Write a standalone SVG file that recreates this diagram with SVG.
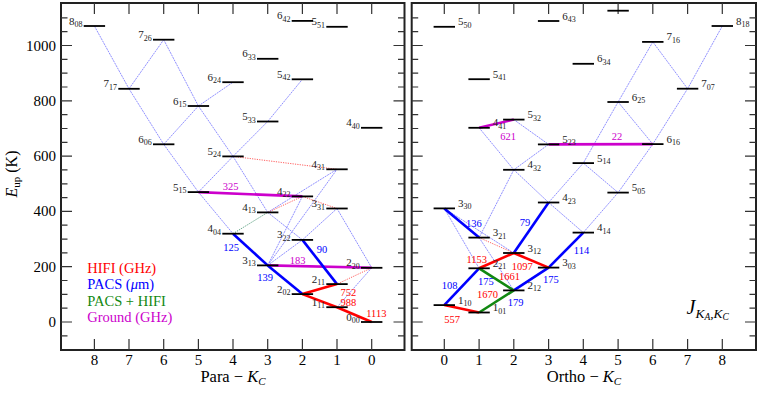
<svg xmlns="http://www.w3.org/2000/svg" xmlns:xlink="http://www.w3.org/1999/xlink" width="763" height="398" viewBox="0 0 763 398" font-family="'Liberation Serif', 'Times New Roman', serif">
<style>
text, tspan{font-family:"Liberation Serif","Times New Roman",serif}
text{fill:#000}
.lv{stroke:#000;stroke-width:1.8}
.ll{font-size:11px;fill:#222;text-anchor:end}
.lr{font-size:11px;fill:#222}
.s{font-size:8px}
.thin{stroke:#7373ff;stroke-width:0.8;stroke-dasharray:2 0.8;fill:none}
.rdot{stroke:#ff4d4d;stroke-width:0.9;stroke-dasharray:1.2 1.2}
.gdot{stroke:#3d8f6a;stroke-width:0.9;stroke-dasharray:1.2 1.2}
.tb{stroke:#0000ff;stroke-width:2.6}
.tr{stroke:#ff0000;stroke-width:2.6}
.tg{stroke:#118811;stroke-width:2.6}
.tm{stroke:#cc00cc;stroke-width:2.6}
.lab{font-size:10.5px;text-anchor:middle}
.cb{fill:#0000ff}.cr{fill:#ff0000}.cg{fill:#118811}.cm{fill:#cc00cc}
.frame{fill:none;stroke:#222;stroke-width:2}
.tk{stroke:#333;stroke-width:1.2;fill:none}
.tl{font-size:15px}
.ax{font-size:16.5px;text-anchor:middle}
</style>
<defs>
<path id="yt" class="tk" d="M0 322h11M0 266.7h11M0 211.4h11M0 156.1h11M0 100.8h11M0 45.5h11M0 335.8h6.5M0 308.2h6.5M0 294.4h6.5M0 280.5h6.5M0 252.9h6.5M0 239.1h6.5M0 225.2h6.5M0 197.6h6.5M0 183.8h6.5M0 169.9h6.5M0 142.3h6.5M0 128.5h6.5M0 114.6h6.5M0 87h6.5M0 73.2h6.5M0 59.3h6.5M0 31.7h6.5M0 17.9h6.5"/>
</defs>

<!-- frames and ticks -->
<g id="axes">
<rect class="frame" x="61" y="3" width="343.5" height="347"/>
<rect class="frame" x="411.7" y="3" width="344.3" height="347"/>
<use xlink:href="#yt" transform="translate(61,0)"/>
<use xlink:href="#yt" transform="translate(404.5,0) scale(-1,1)"/>
<use xlink:href="#yt" transform="translate(411.7,0)"/>
<use xlink:href="#yt" transform="translate(756,0) scale(-1,1)"/>
<path class="tk" d="M94.4 3v11M129 3v11M163.7 3v11M198.4 3v11M233 3v11M267.7 3v11M302.4 3v11M337 3v11M371.7 3v11M94.4 350v-11M129 350v-11M163.7 350v-11M198.4 350v-11M233 350v-11M267.7 350v-11M302.4 350v-11M337 350v-11M371.7 350v-11"/>
<path class="tk" d="M444.3 3v11M479.1 3v11M513.8 3v11M548.6 3v11M583.3 3v11M618.1 3v11M652.8 3v11M687.6 3v11M722.3 3v11M444.3 350v-11M479.1 350v-11M513.8 350v-11M548.6 350v-11M583.3 350v-11M618.1 350v-11M652.8 350v-11M687.6 350v-11M722.3 350v-11"/>
<g class="tl" text-anchor="end">
<text x="56" y="327">0</text>
<text x="56" y="271.7">200</text>
<text x="56" y="216.4">400</text>
<text x="56" y="161.1">600</text>
<text x="56" y="105.8">800</text>
<text x="56" y="50.5">1000</text>
</g>
<g class="tl" text-anchor="middle">
<text x="94.4" y="365">8</text><text x="129" y="365">7</text><text x="163.7" y="365">6</text><text x="198.4" y="365">5</text><text x="233" y="365">4</text><text x="267.7" y="365">3</text><text x="302.4" y="365">2</text><text x="337" y="365">1</text><text x="371.7" y="365">0</text>
<text x="444.3" y="365">0</text><text x="479.1" y="365">1</text><text x="513.8" y="365">2</text><text x="548.6" y="365">3</text><text x="583.3" y="365">4</text><text x="618.1" y="365">5</text><text x="652.8" y="365">6</text><text x="687.6" y="365">7</text><text x="722.3" y="365">8</text>
</g>
<text class="ax" x="233" y="382">Para − <tspan font-style="italic">K</tspan><tspan font-size="11" font-style="italic" dy="3">C</tspan></text>
<text class="ax" x="584" y="382">Ortho − <tspan font-style="italic">K</tspan><tspan font-size="11" font-style="italic" dy="3">C</tspan></text>
<text font-size="16" transform="translate(17,174) rotate(-90)" text-anchor="middle"><tspan font-style="italic">E</tspan><tspan font-size="11" dy="3">up</tspan><tspan dy="-3"> (K)</tspan></text>
</g>

<!-- legend -->
<g id="legend" font-size="14.5">
<text x="87.3" y="272.7" class="cr">HIFI (GHz)</text>
<text x="87.3" y="289.3" class="cb">PACS (<tspan font-style="italic">μ</tspan>m)</text>
<text x="87.3" y="305.5" class="cg">PACS + HIFI</text>
<text x="87.3" y="322" class="cm">Ground (GHz)</text>
</g>
<text id="jlabel" x="686.5" y="313.5" font-style="italic" font-size="20">J<tspan font-size="13.5" dy="4">K</tspan><tspan font-size="9.5" dy="2">A</tspan><tspan font-size="13.5" font-style="normal" dy="-2">,</tspan><tspan font-size="13.5">K</tspan><tspan font-size="9.5" dy="2">C</tspan></text>

<!-- connectors -->
<g id="connectors">
<g class="thin">
<line x1="94.4" y1="26" x2="129" y2="88.8"/>
<line x1="129" y1="88.8" x2="163.7" y2="144.3"/>
<line x1="163.7" y1="144.3" x2="198.4" y2="192.1"/>
<line x1="198.4" y1="192.1" x2="233" y2="233.7"/>
<line x1="129" y1="88.8" x2="163.7" y2="39.7"/>
<line x1="163.7" y1="39.7" x2="198.4" y2="106"/>
<line x1="198.4" y1="106" x2="233" y2="156.4"/>
<line x1="233" y1="156.4" x2="267.7" y2="212.4"/>
<line x1="267.7" y1="212.4" x2="302.4" y2="239.9"/>
<line x1="163.7" y1="144.3" x2="198.4" y2="106"/>
<line x1="198.4" y1="106" x2="233" y2="82.2"/>
<line x1="198.4" y1="192.1" x2="233" y2="156.4"/>
<line x1="233" y1="156.4" x2="267.7" y2="121.5"/>
<line x1="267.7" y1="121.5" x2="302.4" y2="79.3"/>
<line x1="267.7" y1="265.4" x2="302.4" y2="239.9"/>
<line x1="267.7" y1="265.4" x2="302.4" y2="196.4"/>
<line x1="267.7" y1="265.4" x2="337" y2="169.3"/>
<line x1="267.7" y1="212.4" x2="337" y2="169.3"/>
<line x1="302.4" y1="239.9" x2="337" y2="208.5"/>
<line x1="337" y1="208.5" x2="371.7" y2="267.8"/>
<line x1="371.7" y1="267.8" x2="337" y2="307.2"/>
<line x1="722.3" y1="26" x2="687.6" y2="88.7"/>
<line x1="687.6" y1="88.7" x2="652.8" y2="144.1"/>
<line x1="652.8" y1="144.1" x2="618.1" y2="192.6"/>
<line x1="618.1" y1="192.6" x2="583.3" y2="232.6"/>
<line x1="687.6" y1="88.7" x2="652.8" y2="41.9"/>
<line x1="652.8" y1="41.9" x2="618.1" y2="102"/>
<line x1="618.1" y1="102" x2="583.3" y2="163.1"/>
<line x1="583.3" y1="163.1" x2="548.6" y2="202.5"/>
<line x1="618.1" y1="102" x2="652.8" y2="144.1"/>
<line x1="583.3" y1="163.1" x2="618.1" y2="192.6"/>
<line x1="548.6" y1="202.5" x2="583.3" y2="232.6"/>
<line x1="479.1" y1="127.8" x2="513.8" y2="169.8"/>
<line x1="513.8" y1="169.8" x2="548.6" y2="202.5"/>
<line x1="513.8" y1="119.6" x2="548.6" y2="144.4"/>
<line x1="548.6" y1="144.4" x2="513.8" y2="169.8"/>
<line x1="513.8" y1="169.8" x2="479.1" y2="237.6"/>
<line x1="479.1" y1="237.6" x2="513.8" y2="290.4"/>
<line x1="444.3" y1="208.4" x2="479.1" y2="268.3"/>
<line x1="444.3" y1="208.4" x2="513.8" y2="253"/>
</g>
<g class="rdot">
<line x1="233" y1="156.4" x2="337" y2="169.3"/>
<line x1="267.7" y1="212.4" x2="302.4" y2="196.4"/>
<line x1="302.4" y1="196.4" x2="337" y2="208.5"/>
<line x1="371.7" y1="267.8" x2="337" y2="284.1"/>
<line x1="479.1" y1="237.6" x2="513.8" y2="253"/>
</g>
<line class="gdot" x1="233" y1="233.7" x2="267.7" y2="212.4"/>
<g>
<line class="tm" x1="198.4" y1="192.1" x2="302.4" y2="196.4"/>
<line class="tm" x1="267.7" y1="265.4" x2="371.7" y2="267.8"/>
<line class="tb" x1="233" y1="233.7" x2="267.7" y2="265.4"/>
<line class="tb" x1="267.7" y1="265.4" x2="302.4" y2="294.1"/>
<line class="tb" x1="302.4" y1="239.9" x2="337" y2="284.1"/>
<line class="tr" x1="337" y1="284.1" x2="302.4" y2="294.1"/>
<line class="tr" x1="302.4" y1="294.1" x2="337" y2="307.2"/>
<line class="tr" x1="337" y1="307.2" x2="371.7" y2="322"/>
<line class="tb" x1="444.3" y1="208.4" x2="479.1" y2="237.6"/>
<line class="tb" x1="548.6" y1="202.5" x2="513.8" y2="253"/>
<line class="tb" x1="583.3" y1="232.6" x2="548.6" y2="267.6"/>
<line class="tb" x1="479.1" y1="268.3" x2="444.3" y2="305.1"/>
<line class="tb" x1="548.6" y1="267.6" x2="513.8" y2="290.4"/>
<line class="tr" x1="513.8" y1="253" x2="479.1" y2="268.3"/>
<line class="tr" x1="513.8" y1="253" x2="548.6" y2="267.6"/>
<line class="tr" x1="444.3" y1="305.1" x2="479.1" y2="312.5"/>
<line class="tg" x1="479.1" y1="268.3" x2="513.8" y2="290.4"/>
<line class="tg" x1="513.8" y1="290.4" x2="479.1" y2="312.5"/>
<line class="tm" x1="479.1" y1="127.8" x2="513.8" y2="119.6"/>
<line class="tm" x1="548.6" y1="144.4" x2="652.8" y2="144.1"/>
</g>
<g class="lab">
<text x="230.5" y="189.5" class="cm">325</text>
<text x="297.5" y="263.5" class="cm">183</text>
<text x="231" y="250.5" class="cb">125</text>
<text x="265" y="280.5" class="cb">139</text>
<text x="322" y="253" class="cb">90</text>
<text x="348.3" y="295.5" class="cr">752</text>
<text x="348.3" y="305.5" class="cr">988</text>
<text x="376.3" y="317" class="cr">1113</text>
<text x="473.8" y="226.5" class="cb">136</text>
<text x="525" y="226" class="cb">79</text>
<text x="581.5" y="254" class="cb">114</text>
<text x="476.7" y="263" class="cr">1153</text>
<text x="522.2" y="270" class="cr">1097</text>
<text x="509.5" y="280" class="cr">1661</text>
<text x="485.8" y="285" class="cb">175</text>
<text x="550.8" y="282.7" class="cb">175</text>
<text x="449.5" y="288.7" class="cb">108</text>
<text x="487.5" y="298" class="cr">1670</text>
<text x="515.5" y="306" class="cb">179</text>
<text x="452.2" y="322.5" class="cr">557</text>
<text x="508" y="140" class="cm">621</text>
<text x="617" y="140" class="cm">22</text>
</g>
</g>

<!-- para levels -->
<g id="p000"><line class="lv" x1="361" y1="322" x2="382.4" y2="322"/><text class="ll" x="359.7" y="320.5">0<tspan class="s" dy="2.5">00</tspan></text></g>
<g id="p111"><line class="lv" x1="326.3" y1="307.2" x2="347.7" y2="307.2"/><text class="ll" x="325" y="305.7">1<tspan class="s" dy="2.5">11</tspan></text></g>
<g id="p202"><line class="lv" x1="291.7" y1="294.1" x2="313.1" y2="294.1"/><text class="ll" x="290.4" y="292.6">2<tspan class="s" dy="2.5">02</tspan></text></g>
<g id="p211"><line class="lv" x1="326.3" y1="284.1" x2="347.7" y2="284.1"/><text class="ll" x="325" y="282.6">2<tspan class="s" dy="2.5">11</tspan></text></g>
<g id="p220"><line class="lv" x1="361" y1="267.8" x2="382.4" y2="267.8"/><text class="ll" x="359.7" y="266.3">2<tspan class="s" dy="2.5">20</tspan></text></g>
<g id="p313"><line class="lv" x1="257" y1="265.4" x2="278.4" y2="265.4"/><text class="ll" x="255.7" y="263.9">3<tspan class="s" dy="2.5">13</tspan></text></g>
<g id="p322"><line class="lv" x1="291.7" y1="239.9" x2="313.1" y2="239.9"/><text class="ll" x="290.4" y="238.4">3<tspan class="s" dy="2.5">22</tspan></text></g>
<g id="p331"><line class="lv" x1="326.3" y1="208.5" x2="347.7" y2="208.5"/><text class="ll" x="325" y="207">3<tspan class="s" dy="2.5">31</tspan></text></g>
<g id="p404"><line class="lv" x1="222.3" y1="233.7" x2="243.7" y2="233.7"/><text class="ll" x="221" y="232.2">4<tspan class="s" dy="2.5">04</tspan></text></g>
<g id="p413"><line class="lv" x1="257" y1="212.4" x2="278.4" y2="212.4"/><text class="ll" x="255.7" y="210.9">4<tspan class="s" dy="2.5">13</tspan></text></g>
<g id="p422"><line class="lv" x1="291.7" y1="196.4" x2="313.1" y2="196.4"/><text class="ll" x="290.4" y="194.9">4<tspan class="s" dy="2.5">22</tspan></text></g>
<g id="p431"><line class="lv" x1="326.3" y1="169.3" x2="347.7" y2="169.3"/><text class="ll" x="325" y="167.8">4<tspan class="s" dy="2.5">31</tspan></text></g>
<g id="p440"><line class="lv" x1="361" y1="127.8" x2="382.4" y2="127.8"/><text class="ll" x="359.7" y="126.3">4<tspan class="s" dy="2.5">40</tspan></text></g>
<g id="p515"><line class="lv" x1="187.7" y1="192.1" x2="209.1" y2="192.1"/><text class="ll" x="186.4" y="190.6">5<tspan class="s" dy="2.5">15</tspan></text></g>
<g id="p524"><line class="lv" x1="222.3" y1="156.4" x2="243.7" y2="156.4"/><text class="ll" x="221" y="154.9">5<tspan class="s" dy="2.5">24</tspan></text></g>
<g id="p533"><line class="lv" x1="257" y1="121.5" x2="278.4" y2="121.5"/><text class="ll" x="255.7" y="120">5<tspan class="s" dy="2.5">33</tspan></text></g>
<g id="p542"><line class="lv" x1="291.7" y1="79.3" x2="313.1" y2="79.3"/><text class="ll" x="290.4" y="77.8">5<tspan class="s" dy="2.5">42</tspan></text></g>
<g id="p551"><line class="lv" x1="326.3" y1="26.8" x2="347.7" y2="26.8"/><text class="ll" x="325" y="25.3">5<tspan class="s" dy="2.5">51</tspan></text></g>
<g id="p606"><line class="lv" x1="153" y1="144.3" x2="174.4" y2="144.3"/><text class="ll" x="151.7" y="142.8">6<tspan class="s" dy="2.5">06</tspan></text></g>
<g id="p615"><line class="lv" x1="187.7" y1="106" x2="209.1" y2="106"/><text class="ll" x="186.4" y="104.5">6<tspan class="s" dy="2.5">15</tspan></text></g>
<g id="p624"><line class="lv" x1="222.3" y1="82.2" x2="243.7" y2="82.2"/><text class="ll" x="221" y="80.7">6<tspan class="s" dy="2.5">24</tspan></text></g>
<g id="p633"><line class="lv" x1="257" y1="58.8" x2="278.4" y2="58.8"/><text class="ll" x="255.7" y="57.3">6<tspan class="s" dy="2.5">33</tspan></text></g>
<g id="p642"><line class="lv" x1="291.7" y1="20.9" x2="313.1" y2="20.9"/><text class="ll" x="290.4" y="19.4">6<tspan class="s" dy="2.5">42</tspan></text></g>
<g id="p717"><line class="lv" x1="118.3" y1="88.8" x2="139.7" y2="88.8"/><text class="ll" x="117" y="87.3">7<tspan class="s" dy="2.5">17</tspan></text></g>
<g id="p726"><line class="lv" x1="153" y1="39.7" x2="174.4" y2="39.7"/><text class="ll" x="151.7" y="38.2">7<tspan class="s" dy="2.5">26</tspan></text></g>
<g id="p808"><line class="lv" x1="83.7" y1="26" x2="105.1" y2="26"/><text class="ll" x="82.4" y="24.5">8<tspan class="s" dy="2.5">08</tspan></text></g>

<!-- ortho levels -->
<g id="o101"><line class="lv" x1="468.4" y1="312.5" x2="489.8" y2="312.5"/><text class="lr" x="492.8" y="311">1<tspan class="s" dy="2.5">01</tspan></text></g>
<g id="o110"><line class="lv" x1="433.6" y1="305.1" x2="455" y2="305.1"/><text class="lr" x="458" y="303.6">1<tspan class="s" dy="2.5">10</tspan></text></g>
<g id="o212"><line class="lv" x1="503.1" y1="290.4" x2="524.5" y2="290.4"/><text class="lr" x="527.5" y="288.9">2<tspan class="s" dy="2.5">12</tspan></text></g>
<g id="o221"><line class="lv" x1="468.4" y1="268.3" x2="489.8" y2="268.3"/><text class="lr" x="492.8" y="266.8">2<tspan class="s" dy="2.5">21</tspan></text></g>
<g id="o303"><line class="lv" x1="537.9" y1="267.6" x2="559.3" y2="267.6"/><text class="lr" x="562.3" y="266.1">3<tspan class="s" dy="2.5">03</tspan></text></g>
<g id="o312"><line class="lv" x1="503.1" y1="253" x2="524.5" y2="253"/><text class="lr" x="527.5" y="251.5">3<tspan class="s" dy="2.5">12</tspan></text></g>
<g id="o321"><line class="lv" x1="468.4" y1="237.6" x2="489.8" y2="237.6"/><text class="lr" x="492.8" y="236.1">3<tspan class="s" dy="2.5">21</tspan></text></g>
<g id="o330"><line class="lv" x1="433.6" y1="208.4" x2="455" y2="208.4"/><text class="lr" x="458" y="206.9">3<tspan class="s" dy="2.5">30</tspan></text></g>
<g id="o414"><line class="lv" x1="572.6" y1="232.6" x2="594" y2="232.6"/><text class="lr" x="597" y="231.1">4<tspan class="s" dy="2.5">14</tspan></text></g>
<g id="o423"><line class="lv" x1="537.9" y1="202.5" x2="559.3" y2="202.5"/><text class="lr" x="562.3" y="201">4<tspan class="s" dy="2.5">23</tspan></text></g>
<g id="o432"><line class="lv" x1="503.1" y1="169.8" x2="524.5" y2="169.8"/><text class="lr" x="527.5" y="168.3">4<tspan class="s" dy="2.5">32</tspan></text></g>
<g id="o441"><line class="lv" x1="468.4" y1="127.8" x2="489.8" y2="127.8"/><text class="lr" x="492.8" y="126.3">4<tspan class="s" dy="2.5">41</tspan></text></g>
<g id="o505"><line class="lv" x1="607.4" y1="192.6" x2="628.8" y2="192.6"/><text class="lr" x="631.8" y="191.1">5<tspan class="s" dy="2.5">05</tspan></text></g>
<g id="o514"><line class="lv" x1="572.6" y1="163.1" x2="594" y2="163.1"/><text class="lr" x="597" y="161.6">5<tspan class="s" dy="2.5">14</tspan></text></g>
<g id="o523"><line class="lv" x1="537.9" y1="144.4" x2="559.3" y2="144.4"/><text class="lr" x="562.3" y="142.9">5<tspan class="s" dy="2.5">23</tspan></text></g>
<g id="o532"><line class="lv" x1="503.1" y1="119.6" x2="524.5" y2="119.6"/><text class="lr" x="527.5" y="118.1">5<tspan class="s" dy="2.5">32</tspan></text></g>
<g id="o541"><line class="lv" x1="468.4" y1="79.2" x2="489.8" y2="79.2"/><text class="lr" x="492.8" y="77.7">5<tspan class="s" dy="2.5">41</tspan></text></g>
<g id="o550"><line class="lv" x1="433.6" y1="26.8" x2="455" y2="26.8"/><text class="lr" x="458" y="25.3">5<tspan class="s" dy="2.5">50</tspan></text></g>
<g id="o616"><line class="lv" x1="642.1" y1="144.1" x2="663.5" y2="144.1"/><text class="lr" x="666.5" y="142.6">6<tspan class="s" dy="2.5">16</tspan></text></g>
<g id="o625"><line class="lv" x1="607.4" y1="102" x2="628.8" y2="102"/><text class="lr" x="631.8" y="100.5">6<tspan class="s" dy="2.5">25</tspan></text></g>
<g id="o634"><line class="lv" x1="572.6" y1="63.8" x2="594" y2="63.8"/><text class="lr" x="597" y="62.3">6<tspan class="s" dy="2.5">34</tspan></text></g>
<g id="o643"><line class="lv" x1="537.9" y1="21" x2="559.3" y2="21"/><text class="lr" x="562.3" y="19.5">6<tspan class="s" dy="2.5">43</tspan></text></g>
<g id="o707"><line class="lv" x1="676.9" y1="88.7" x2="698.3" y2="88.7"/><text class="lr" x="701.3" y="87.2">7<tspan class="s" dy="2.5">07</tspan></text></g>
<g id="o716"><line class="lv" x1="642.1" y1="41.9" x2="663.5" y2="41.9"/><text class="lr" x="666.5" y="40.4">7<tspan class="s" dy="2.5">16</tspan></text></g>
<g id="o725"><line class="lv" x1="607.4" y1="10.7" x2="628.8" y2="10.7"/></g>
<g id="o818"><line class="lv" x1="711.6" y1="26" x2="733" y2="26"/><text class="lr" x="736" y="24.5">8<tspan class="s" dy="2.5">18</tspan></text></g>
</svg>
